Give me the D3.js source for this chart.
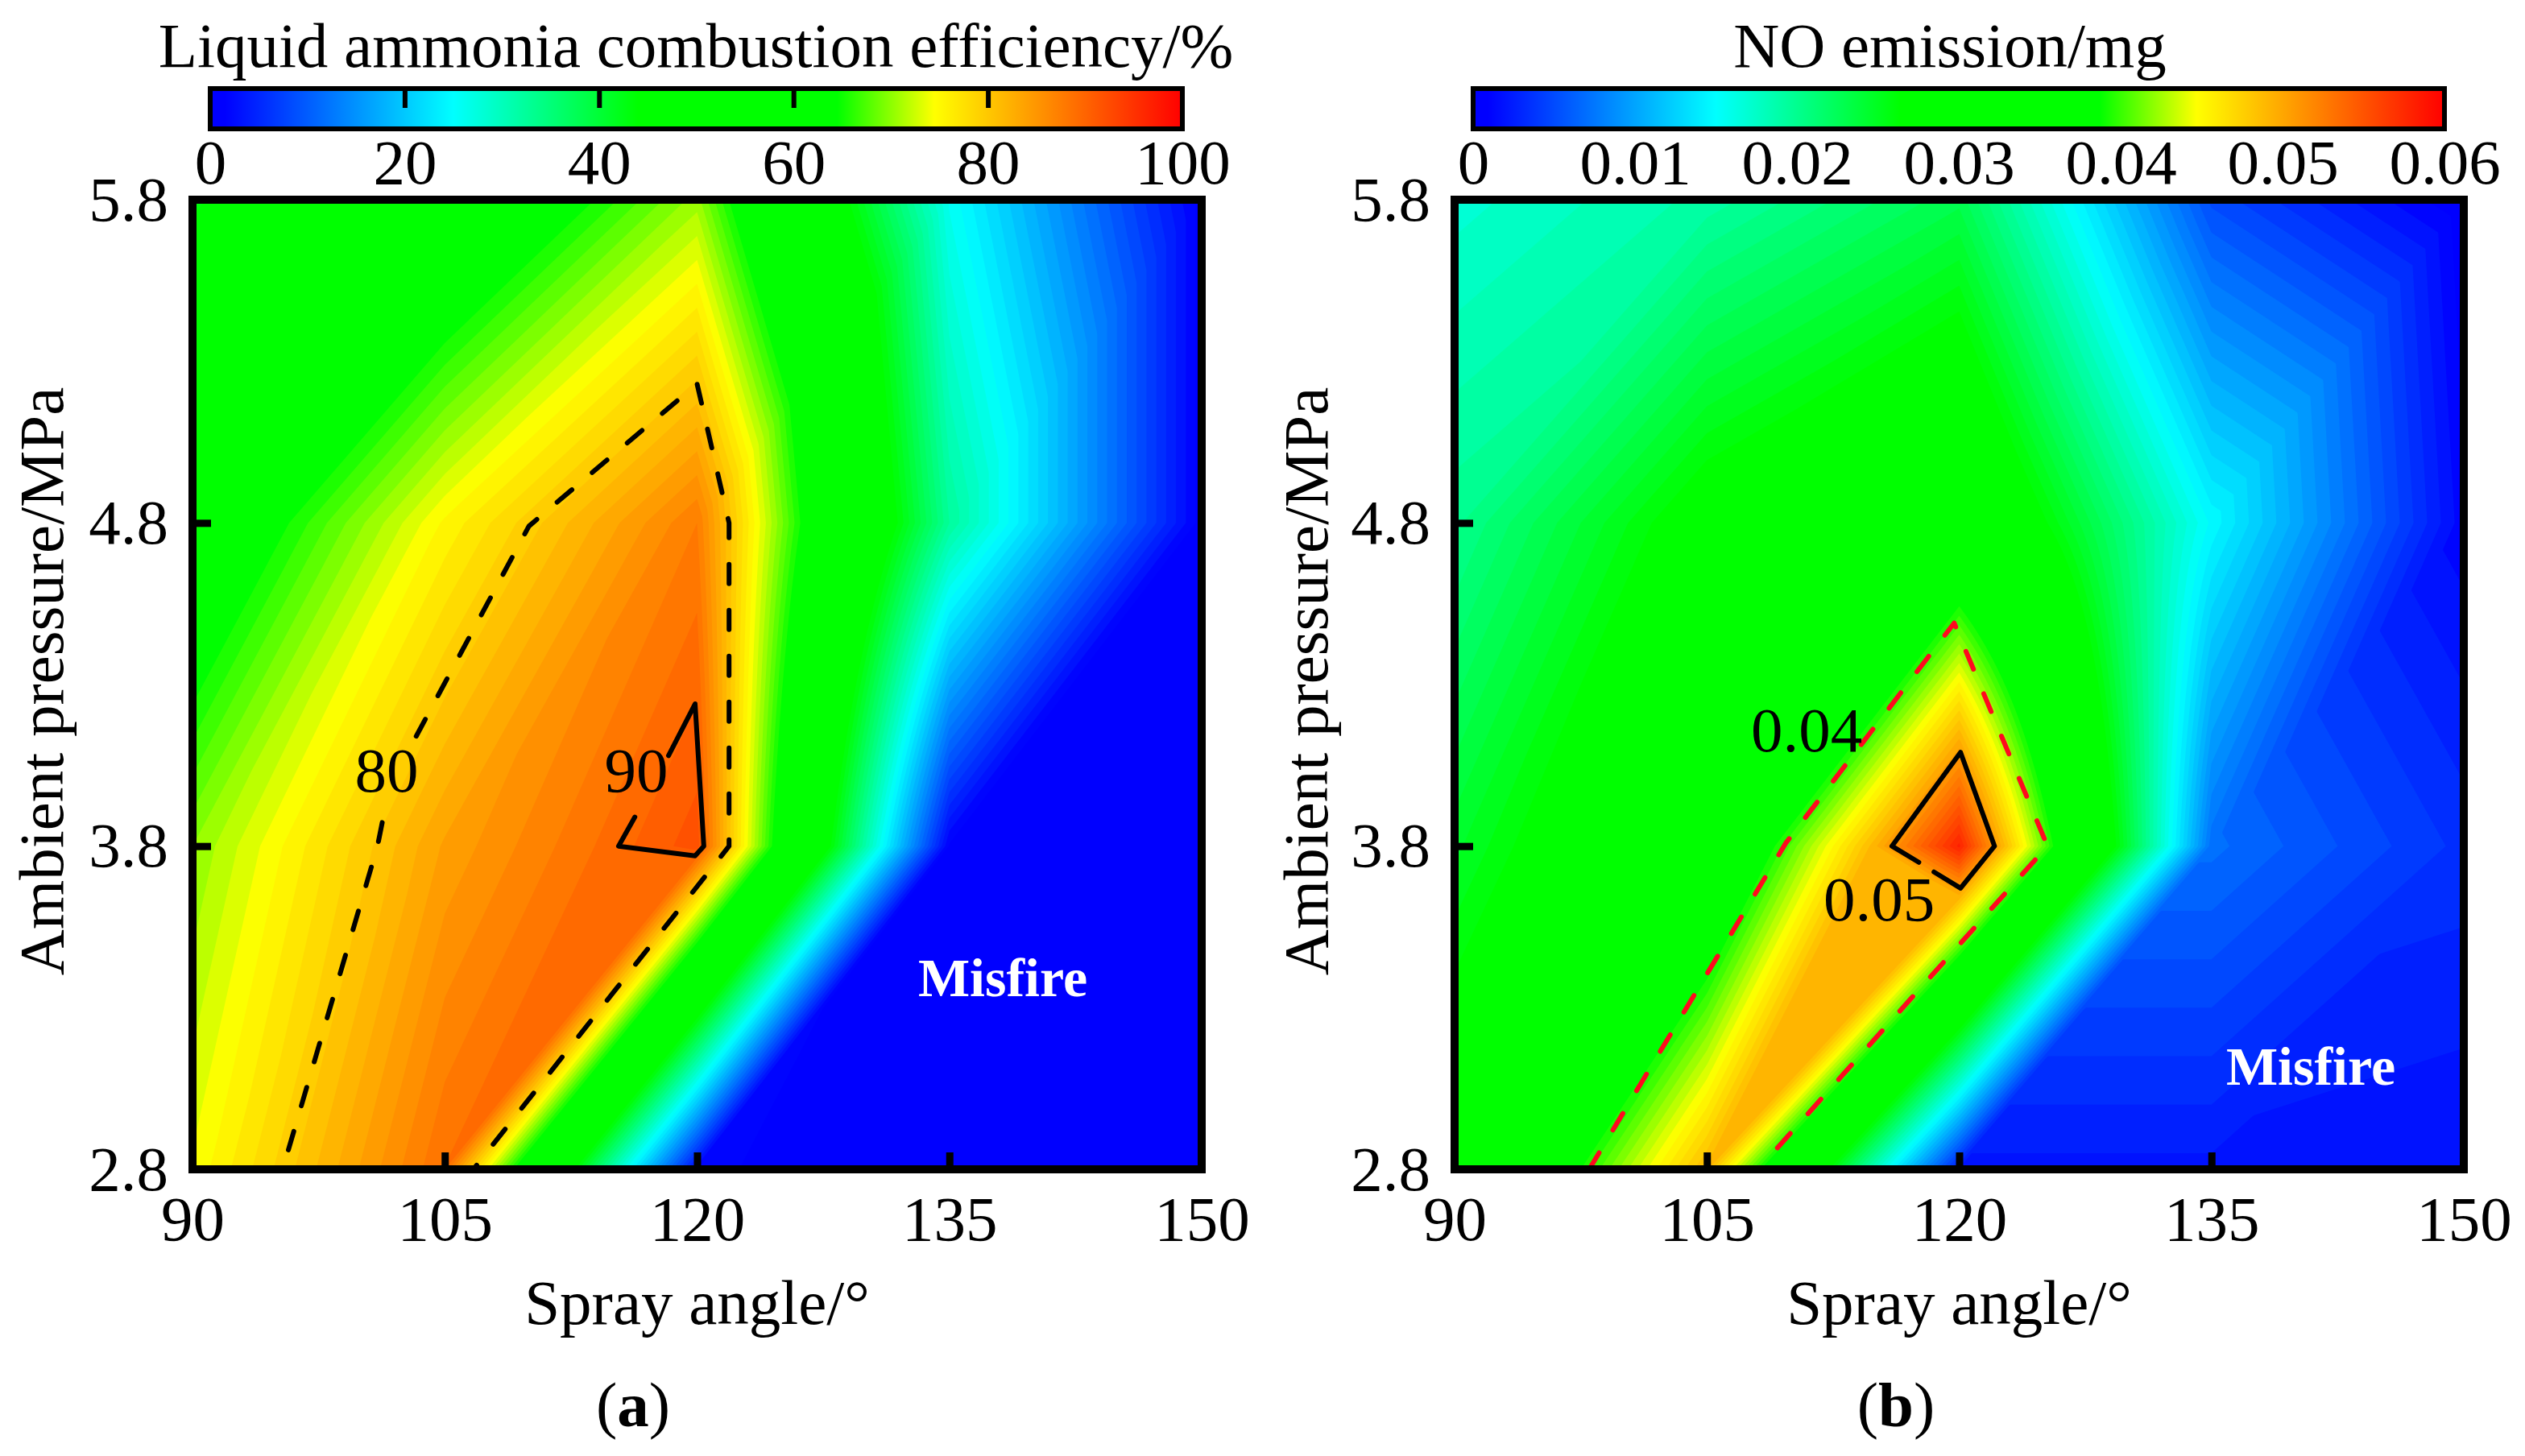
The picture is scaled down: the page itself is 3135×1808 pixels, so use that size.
<!DOCTYPE html>
<html><head><meta charset="utf-8">
<script src="https://cdn.jsdelivr.net/npm/d3@7"></script>
<style>html,body{margin:0;padding:0;background:#fff}svg{display:block}text{font-family:"Liberation Serif",serif;fill:#000}</style>
</head><body><svg id="c" width="3135" height="1808" viewBox="0 0 3135 1808"></svg>
<script>
// ---- data ----
const sprayAngles = [90,105,120,135,150];
const pressures   = [2.8,3.8,4.8,5.8];
const efficiency = [ // rows follow pressures, columns follow sprayAngles
  [74,   88.8, 1.5,  0,   0],
  [70,   84,   92,   1,   0],
  [58.6, 75.3, 87.5, 32.5,0.5],
  [43,   56.8, 70.6, 26,  0.5]
];
const noEmission = [
  [0.029, 0.049, 0.002, 0.002, 0.0015],
  [0.0245,0.032, 0.058, 0.007, 0.0035],
  [0.020, 0.028, 0.0324,0.0148,0.001],
  [0.0169,0.019, 0.023, 0.005, 0]
];
// reading on the ridge from (105, 2.8) to (120, 3.8): [fraction along ridge, value there, plateau value]
const effRidge = [0.97, 90, 89.2];
const noRidge  = [0.9, 0.05, 0.0493];
const colorStops = [0,0.015,0.25,0.44,0.645,0.745,1];
const colorNames = ["#0000ff","#0000ff","#00ffff","#00ff00","#00ff00","#ffff00","#ff0000"];
const xTicks = [90,105,120,135,150];
const yTicks = [2.8,3.8,4.8,5.8];
const effTicks = [0,20,40,60,80,100];
const noTicks = [0,0.01,0.02,0.03,0.04,0.05,0.06];
const eff80 = [[[95.7,2.86],[101.0,3.8],[101.5,3.93]],
               [[103.3,4.14],[110.0,4.79],[110.9,4.83],[120,5.23],[121.9,4.8],[121.9,3.8],[106.7,2.8]]];
const eff90 = [[116.3,3.89],[115.33,3.8],[119.88,3.77],[120.4,3.8],[119.88,4.24],[118.3,4.08]];
const no04  = [[98,2.8],[109.7,3.81],[119.7,4.49],[125.25,3.8],[108.05,2.8]];
const no05  = [[117.6,3.75],[116,3.8],[120.08,4.09],[122.1,3.8],[120.08,3.67],[118.5,3.72]];

const svg = d3.select("#c");
const FS = 79;
const defs = svg.append("defs");
const color = d3.scaleLinear().domain(colorStops).range(colorNames).interpolate(d3.interpolateRgb);

function planar(p,q,r,pv,qv,rv,u,v){
  const den=(q[1]-r[1])*(p[0]-r[0])+(r[0]-q[0])*(p[1]-r[1]);
  const l1=((q[1]-r[1])*(u-r[0])+(r[0]-q[0])*(v-r[1]))/den;
  const l2=((r[1]-p[1])*(u-r[0])+(p[0]-r[0])*(v-r[1]))/den;
  return l1*pv+l2*qv+(1-l1-l2)*rv;
}
function sample(grid, ridge, ax, pr){
  const i = Math.min(d3.bisectRight(sprayAngles,ax)-1, sprayAngles.length-2);
  const j = Math.min(d3.bisectRight(pressures,pr)-1, pressures.length-2);
  const u = (ax-sprayAngles[i])/(sprayAngles[i+1]-sprayAngles[i]);
  const v = (pr-pressures[j])/(pressures[j+1]-pressures[j]);
  const a=grid[j][i], b=grid[j][i+1], c=grid[j+1][i], d=grid[j+1][i+1];
  if(i===2&&j===1) return a*(1-u)*(1-v)+b*u*(1-v)+c*(1-u)*v+d*u*v;   // this cell reads as a smooth surface
  const tri = u>=v ? a+(b-a)*u+(d-b)*v : a+(c-a)*v+(d-c)*u;          // triangles, split lower-left to upper-right
  if(i===1&&j===0){                                                  // flat plateau, then a peak, along this diagonal
    const [t,m,flat]=ridge, N=[t,t], TR=[1,1];
    const peak = u>=v ? planar(N,TR,[1,0],m,d,b,u,v) : planar(N,TR,[0,1],m,d,c,u,v);
    return Math.min(tri, Math.max(flat, peak));
  }
  return tri;
}

function panel(o){
  const x = d3.scaleLinear().domain([90,150]).range([o.left,o.right]);
  const y = d3.scaleLinear().domain([2.8,5.8]).range([1452,248]);
  const g = svg.append("g");
  const clipId = "clip"+o.id;
  defs.append("clipPath").attr("id",clipId).append("rect")
    .attr("x",o.left).attr("y",248).attr("width",o.right-o.left).attr("height",1204);

  // filled contour field
  const W=o.right-o.left, H=1204, vals=new Float64Array(W*H);
  const gx=d3.scaleLinear().domain([0.5,W-0.5]).range([90,150]);
  const gy=d3.scaleLinear().domain([0.5,H-0.5]).range([5.8,2.8]);
  for(let r=0;r<H;r++){const pr=gy(r+0.5);
    for(let c=0;c<W;c++) vals[r*W+c]=sample(o.grid,o.ridge,gx(c+0.5),pr);}
  const nLev=80, levels=d3.range(0,nLev).map(k=>k*o.vmax/nLev);
  const path=d3.geoPath(d3.geoTransform({point(px,py){
    this.stream.point(x(gx(px)),y(gy(py)));}}));
  const field=g.append("g").attr("clip-path",`url(#${clipId})`);
  field.append("rect").attr("x",o.left).attr("y",248).attr("width",W).attr("height",H).attr("fill",color(0));
  const cs=d3.contours().size([W,H]).thresholds(levels)(vals);
  field.selectAll("path").data(cs).join("path")
    .attr("d",path)
    .attr("fill",d=>color((d.value+o.vmax/(2*nLev))/o.vmax));

  // contour lines
  const line=d3.line().x(d=>x(d[0])).y(d=>y(d[1]));
  const lines=g.append("g").attr("clip-path",`url(#${clipId})`).attr("fill","none").attr("stroke-width",6)
    .attr("stroke-linecap","round").attr("stroke-linejoin","round");
  o.dashed.forEach(p=>lines.append("path").attr("d",line(p)).attr("stroke",o.dashColor).attr("stroke-dasharray","24 33"));
  lines.append("path").attr("d",line(o.solid)).attr("stroke","#000");

  // axes
  const xa=g.append("g").attr("transform","translate(0,1452)")
    .call(d3.axisBottom(x).tickValues(xTicks).tickFormat(d3.format("d")).tickSizeInner(-21).tickSizeOuter(0).tickPadding(32));
  const ya=g.append("g").attr("transform",`translate(${o.left},0)`)
    .call(d3.axisLeft(y).tickValues(yTicks).tickFormat(d3.format(".1f")).tickSizeInner(-23).tickSizeOuter(0).tickPadding(30));
  [xa,ya].forEach(a=>{a.select(".domain").remove();
    a.attr("font-family",null).attr("font-size",FS);
    a.selectAll("line").attr("stroke","#000").attr("stroke-width",9);
    a.selectAll(".tick").filter((d,i,e)=>i===0||i===e.length-1).select("line").remove();});
  g.append("rect").attr("x",o.left).attr("y",248).attr("width",W).attr("height",H)
    .attr("fill","none").attr("stroke","#000").attr("stroke-width",10);

  // labels
  g.append("text").attr("x",(o.left+o.right)/2).attr("y",1644).attr("text-anchor","middle").attr("font-size",FS).text("Spray angle/°");
  g.append("text").attr("transform",`translate(${o.yLabelX},846) rotate(-90)`).attr("text-anchor","middle").attr("font-size",FS).text("Ambient pressure/MPa");
  const cap=g.append("text").attr("x",o.capX).attr("y",1771).attr("text-anchor","middle").attr("font-size",FS);
  cap.append("tspan").text("(");
  cap.append("tspan").attr("font-weight","bold").text(o.cap);
  cap.append("tspan").text(")");
  g.append("text").attr("x",o.misfire[0]).attr("y",o.misfire[1]).attr("text-anchor","middle")
    .attr("font-size",68).attr("font-weight","bold").style("fill","#fff").text("Misfire");
  o.notes.forEach(n=>g.append("text").attr("x",n.x).attr("y",n.y).attr("text-anchor","middle").attr("font-size",FS).text(n.t));

  // colour bar
  const bar=d3.scaleLinear().domain([0,o.vmax]).range([o.barL,o.barR]);
  const gid="grad"+o.id;
  const lg=defs.append("linearGradient").attr("id",gid);
  colorStops.forEach((s,i)=>lg.append("stop").attr("offset",s).attr("stop-color",colorNames[i]));
  g.append("rect").attr("x",o.barL).attr("y",110).attr("width",o.barR-o.barL).attr("height",50)
    .attr("fill",`url(#${gid})`).attr("stroke","#000").attr("stroke-width",6);
  const ba=g.append("g").attr("transform","translate(0,160)")
    .call(d3.axisBottom(bar).tickValues(o.barTicks).tickFormat(o.barFmt).tickSize(0).tickPadding(12));
  ba.select(".domain").remove(); ba.attr("font-family",null).attr("font-size",FS);
  if(o.barMarks){
    const bm=g.append("g").attr("transform","translate(0,110)")
      .call(d3.axisTop(bar).tickValues(o.barMarks).tickFormat("").tickSizeInner(-24).tickSizeOuter(0));
    bm.select(".domain").remove();
    bm.selectAll("line").attr("stroke","#000").attr("stroke-width",6);
  }
  g.append("text").attr("x",o.titleX).attr("y",83).attr("text-anchor","middle").attr("font-size",FS).text(o.title);
}

panel({id:"a",left:239,right:1492,grid:efficiency,ridge:effRidge,vmax:100,dashed:eff80,dashColor:"#000",solid:eff90,
  capX:786,cap:"a",misfire:[1245,1237],yLabelX:78,
  notes:[{x:480,y:983,t:"80"},{x:790,y:983,t:"90"}],
  barL:261,barR:1468,barTicks:effTicks,barFmt:d3.format("d"),barMarks:[20,40,60,80],
  title:"Liquid ammonia combustion efficiency/%",titleX:864});
panel({id:"b",left:1806,right:3059,grid:noEmission,ridge:noRidge,vmax:0.06,dashed:[no04],dashColor:"#ff0a1e",solid:no05,
  capX:2354,cap:"b",misfire:[2869,1347],yLabelX:1648,
  notes:[{x:2243,y:933,t:"0.04"},{x:2333,y:1143,t:"0.05"}],
  barL:1829,barR:3035,barTicks:noTicks,barFmt:d=>d===0?"0":d3.format(".2f")(d),barMarks:null,
  title:"NO emission/mg",titleX:2421});
</script></body></html>
